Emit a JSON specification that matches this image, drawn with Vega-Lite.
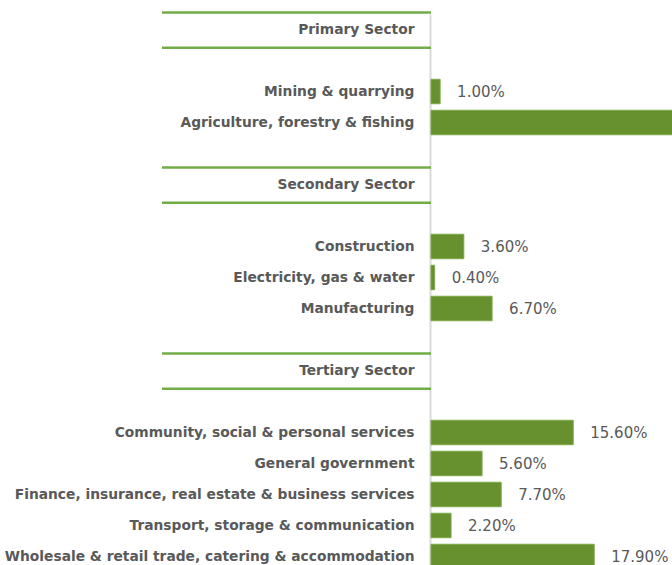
{
  "$schema": "https://vega.github.io/schema/vega-lite/v6.json",
  "autosize": "none",
  "width": 510,
  "height": 558,
  "padding": {"left": 162, "top": 14, "right": 0, "bottom": 0},
  "background": "white",
  "config": {"view": {"stroke": null}},
  "datasets": {
    "rows": [
      {"label": "Mining & quarrying", "value": 0.01},
      {"label": "Agriculture, forestry & fishing", "value": 0.393},
      {"label": "Construction", "value": 0.036},
      {"label": "Electricity, gas & water", "value": 0.004},
      {"label": "Manufacturing", "value": 0.067},
      {"label": "Community, social & personal services", "value": 0.156},
      {"label": "General government", "value": 0.056},
      {"label": "Finance, insurance, real estate & business services", "value": 0.077},
      {"label": "Transport, storage & communication", "value": 0.022},
      {"label": "Wholesale & retail trade, catering & accommodation", "value": 0.179}
    ],
    "headers": [
      {"label": "Primary Sector"},
      {"label": "Secondary Sector"},
      {"label": "Tertiary Sector"}
    ]
  },
  "layer": [
    {
      "data": {"name": "rows"},
      "mark": {"type": "bar", "color": "#67912f", "stroke": "#7ea84a", "strokeWidth": 1},
      "encoding": {
        "y": {
          "field": "label",
          "type": "nominal",
          "scale": {
            "domain": ["Primary Sector", "_b1", "Mining & quarrying", "Agriculture, forestry & fishing", "_b2", "Secondary Sector", "_b3", "Construction", "Electricity, gas & water", "Manufacturing", "_b4", "Tertiary Sector", "_b5", "Community, social & personal services", "General government", "Finance, insurance, real estate & business services", "Transport, storage & communication", "Wholesale & retail trade, catering & accommodation"],
            "paddingInner": 0.21,
            "paddingOuter": 0.105
          },
          "axis": {
            "title": null,
            "offset": -268,
            "ticks": false,
            "grid": false,
            "labelPadding": 16,
            "labelLimit": 600,
            "labelFont": "DejaVu Sans",
            "labelFontWeight": "bold",
            "labelFontSize": 13.8,
            "labelColor": "#595959",
            "domainColor": "#d9d9d9",
            "domainWidth": 2,
            "labelExpr": "indexof(datum.label, '_b') === 0 ? '' : datum.label"
          }
        },
        "x": {
          "field": "value",
          "type": "quantitative",
          "scale": {"domain": [-0.295, 0.2643], "nice": false, "zero": false},
          "axis": null
        }
      }
    },
    {
      "data": {"name": "rows"},
      "mark": {"type": "text", "align": "left", "baseline": "middle", "dx": 17, "font": "DejaVu Sans", "fontSize": 15, "color": "#595959"},
      "encoding": {
        "y": {"field": "label", "type": "nominal"},
        "x": {"field": "value", "type": "quantitative"},
        "text": {"field": "value", "type": "quantitative", "format": ".2%"}
      }
    },
    {
      "data": {"name": "headers"},
      "mark": {"type": "rule", "color": "#70ad47", "strokeWidth": 2.5},
      "encoding": {
        "y": {"field": "label", "type": "nominal", "bandPosition": -0.19},
        "x": {"datum": -0.295, "type": "quantitative"},
        "x2": {"datum": 0}
      }
    },
    {
      "data": {"name": "headers"},
      "mark": {"type": "rule", "color": "#70ad47", "strokeWidth": 2.5},
      "encoding": {
        "y": {"field": "label", "type": "nominal", "bandPosition": 1.25},
        "x": {"datum": -0.295, "type": "quantitative"},
        "x2": {"datum": 0}
      }
    }
  ]
}
